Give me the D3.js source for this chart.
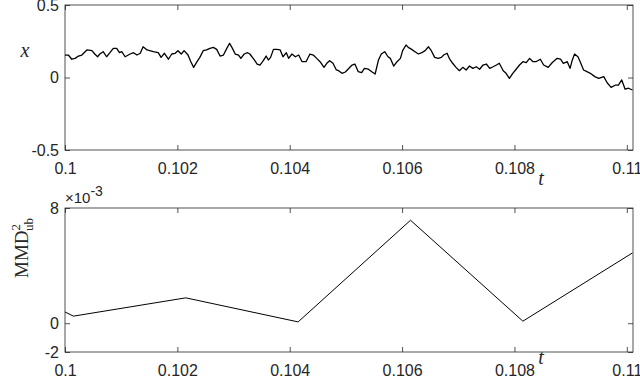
<!DOCTYPE html>
<html>
<head>
<meta charset="utf-8">
<script src="https://cdn.jsdelivr.net/npm/d3@7"></script>
<style>
  body { margin: 0; background: #fff; }
  svg { display: block; }
  .tick text { font-family: "Liberation Sans", Arial, sans-serif; font-size: 16px; fill: #262626; }
  .tick line { stroke: #262626; stroke-width: 0.8; }
</style>
</head>
<body>
<svg id="chart" width="640" height="378"></svg>
<script>
// top panel: x(t)
var tTop = [0.10000,0.10006,0.10012,0.10018,0.10024,0.10030,0.10039,0.10048,0.10053,0.10058,
  0.10062,0.10068,0.10074,0.10080,0.10086,0.10092,0.10097,0.10101,0.10107,0.10116,
  0.10122,0.10128,0.10134,0.10139,0.10146,0.10151,0.10157,0.10166,0.10171,0.10177,
  0.10184,0.10190,0.10196,0.10201,0.10207,0.10212,0.10219,0.10224,0.10229,0.10235,
  0.10240,0.10246,0.10252,0.10258,0.10264,0.10270,0.10276,0.10282,0.10288,0.10293,
  0.10298,0.10303,0.10309,0.10313,0.10319,0.10325,0.10329,0.10337,0.10342,0.10347,
  0.10353,0.10358,0.10362,0.10366,0.10371,0.10377,0.10383,0.10388,0.10394,0.10398,
  0.10404,0.10410,0.10416,0.10422,0.10429,0.10436,0.10442,0.10448,0.10454,0.10461,
  0.10466,0.10471,0.10477,0.10483,0.10487,0.10493,0.10499,0.10505,0.10511,0.10516,
  0.10522,0.10528,0.10533,0.10540,0.10546,0.10552,0.10558,0.10563,0.10569,0.10575,
  0.10579,0.10585,0.10591,0.10597,0.10601,0.10607,0.10611,0.10617,0.10623,0.10629,
  0.10635,0.10641,0.10647,0.10652,0.10658,0.10664,0.10670,0.10674,0.10680,0.10684,
  0.10690,0.10696,0.10702,0.10708,0.10714,0.10720,0.10726,0.10732,0.10738,0.10744,
  0.10750,0.10756,0.10762,0.10768,0.10773,0.10780,0.10785,0.10791,0.10797,0.10803,
  0.10809,0.10815,0.10821,0.10827,0.10833,0.10839,0.10846,0.10852,0.10860,0.10867,
  0.10876,0.10882,0.10887,0.10894,0.10899,0.10903,0.10907,0.10913,0.10917,0.10923,
  0.10929,0.10935,0.10943,0.10950,0.10959,0.10965,0.10972,0.10980,0.10985,0.10991,
  0.10997,0.11003,0.11010];
var xTop = [0.155,0.155,0.126,0.132,0.148,0.155,0.190,0.185,0.162,0.143,
  0.162,0.178,0.143,0.171,0.201,0.201,0.171,0.178,0.143,0.162,
  0.171,0.155,0.167,0.212,0.190,0.185,0.178,0.171,0.139,0.167,
  0.126,0.162,0.167,0.185,0.162,0.185,0.155,0.109,0.070,0.109,
  0.139,0.185,0.190,0.201,0.208,0.194,0.148,0.155,0.201,0.236,
  0.201,0.162,0.155,0.132,0.162,0.171,0.162,0.121,0.093,0.086,
  0.116,0.148,0.121,0.139,0.194,0.194,0.190,0.143,0.171,0.132,
  0.162,0.143,0.155,0.109,0.109,0.162,0.155,0.132,0.109,0.070,
  0.098,0.116,0.098,0.052,0.047,0.029,0.038,0.062,0.086,0.093,
  0.040,0.033,0.063,0.057,0.040,0.024,0.121,0.162,0.178,0.143,
  0.132,0.079,0.109,0.132,0.185,0.224,0.208,0.194,0.178,0.162,
  0.171,0.185,0.212,0.185,0.139,0.132,0.139,0.155,0.167,0.132,
  0.098,0.070,0.047,0.070,0.052,0.079,0.063,0.074,0.057,0.086,
  0.093,0.063,0.074,0.086,0.098,0.047,0.029,-0.006,0.029,0.057,
  0.086,0.109,0.102,0.132,0.109,0.110,0.126,0.086,0.070,0.102,
  0.132,0.126,0.098,0.109,0.063,0.121,0.162,0.143,0.109,0.052,
  0.040,0.029,0.006,-0.006,0.006,-0.036,-0.068,-0.052,-0.052,-0.017,
  -0.081,-0.074,-0.086];

// bottom panel: MMD^2_ub
var tMMD = [0.1, 0.10015, 0.10215, 0.10415, 0.10615, 0.10815, 0.1101];
var mmd = [0.00078, 0.00049, 0.00176, 0.00009, 0.00715, 0.00014, 0.00488];

var tTicks = [0.1, 0.102, 0.104, 0.106, 0.108, 0.11];
var xTicks = [-0.5, 0, 0.5];
var mmdTicks = [-0.002, 0, 0.008];

var svg = d3.select("#chart");
var left = 65, right = 633;
var axCol = "#262626";

var tScale = d3.scaleLinear().domain([0.1, 0.11011]).range([left, right]);

function panel(top, bottom, yScale, yTicks, yFmt) {
  var g = svg.append("g");
  var h = bottom - top;
  // bottom axis with labels
  var xb = g.append("g").attr("transform", "translate(0," + bottom + ")")
    .call(d3.axisBottom(tScale).tickValues(tTicks).tickSize(-5).tickSizeOuter(0)
      .tickFormat(function(d) { return d3.format("")(+d.toFixed(3)); }));
  xb.select(".domain").remove();
  xb.selectAll("text").attr("y", 24).attr("dy", null);
  // mirrored top ticks
  var xt = g.append("g").attr("transform", "translate(0," + top + ")")
    .call(d3.axisTop(tScale).tickValues(tTicks).tickSize(-5).tickSizeOuter(0).tickFormat(""));
  xt.select(".domain").remove();
  // left axis
  var yl = g.append("g").attr("transform", "translate(" + left + ",0)")
    .call(d3.axisLeft(yScale).tickValues(yTicks).tickSize(-5).tickSizeOuter(0).tickFormat(yFmt));
  yl.select(".domain").remove();
  yl.selectAll("text").attr("x", -6);
  // right mirrored ticks
  var yr = g.append("g").attr("transform", "translate(" + right + ",0)")
    .call(d3.axisRight(yScale).tickValues(yTicks).tickSize(-5).tickSizeOuter(0).tickFormat(""));
  yr.select(".domain").remove();
  // box
  g.append("rect").attr("x", left).attr("y", top).attr("width", right - left).attr("height", h)
    .attr("fill", "none").attr("stroke", axCol).attr("stroke-width", 0.8);
  return g;
}

// top panel
var top1 = 5, bot1 = 150;
var yTop = d3.scaleLinear().domain([-0.5, 0.5]).range([bot1, top1]);
panel(top1, bot1, yTop, xTicks, function(d) { return d === 0 ? "0" : String(d); });

svg.append("defs").append("clipPath").attr("id", "clip1")
  .append("rect").attr("x", left).attr("y", top1).attr("width", right - left).attr("height", bot1 - top1);

var lineTop = d3.line().x(function(d, i) { return tScale(tTop[i]); }).y(function(d) { return yTop(d); });
svg.append("path").datum(xTop).attr("d", lineTop).attr("clip-path", "url(#clip1)")
  .attr("fill", "none").attr("stroke", "#000").attr("stroke-width", 1.3).attr("stroke-linejoin", "round");

// bottom panel
var top2 = 208, bot2 = 352;
var yBot = d3.scaleLinear().domain([-0.002, 0.008]).range([bot2, top2]);
panel(top2, bot2, yBot, mmdTicks, function(d) { return String(Math.round(d * 1000)); });

svg.append("defs").append("clipPath").attr("id", "clip2")
  .append("rect").attr("x", left).attr("y", top2).attr("width", right - left).attr("height", bot2 - top2);

var lineBot = d3.line().x(function(d, i) { return tScale(tMMD[i]); }).y(function(d) { return yBot(d); });
svg.append("path").datum(mmd).attr("d", lineBot).attr("clip-path", "url(#clip2)")
  .attr("fill", "none").attr("stroke", "#000").attr("stroke-width", 1);

// labels
var serif = "'Latin Modern Roman','DejaVu Serif','Liberation Serif',serif";
svg.append("text").attr("x", 25).attr("y", 57).attr("text-anchor", "middle")
  .style("font-family", "'Liberation Serif',serif").style("font-style", "italic").style("font-size", "20px")
  .attr("fill", axCol).text("x");
svg.append("text").attr("x", 541).attr("y", 185).attr("text-anchor", "middle")
  .style("font-family", "'Liberation Serif',serif").style("font-style", "italic").style("font-size", "20px")
  .attr("fill", axCol).text("t");
svg.append("text").attr("x", 541).attr("y", 364).attr("text-anchor", "middle")
  .style("font-family", "'Liberation Serif',serif").style("font-style", "italic").style("font-size", "20px")
  .attr("fill", axCol).text("t");

// y label of bottom panel, rotated
var yl2 = svg.append("text").attr("transform", "translate(28,248) rotate(-90)")
  .attr("text-anchor", "middle")
  .style("font-family", "'Liberation Serif',serif").style("font-size", "19px").attr("fill", axCol);
yl2.append("tspan").text("MMD");
yl2.append("tspan").attr("dy", -8).style("font-size", "13px").text("2");
yl2.append("tspan").attr("dx", -7).attr("dy", 13).style("font-size", "13px").text("ub");

// exponent label
var ex = svg.append("text").attr("x", 65).attr("y", 203)
  .style("font-family", "'Liberation Sans',Arial,sans-serif").style("font-size", "15px").attr("fill", axCol);
ex.append("tspan").text("\u00d710");
ex.append("tspan").attr("dy", -7).style("font-size", "14px").text("-3");
</script>
</body>
</html>
